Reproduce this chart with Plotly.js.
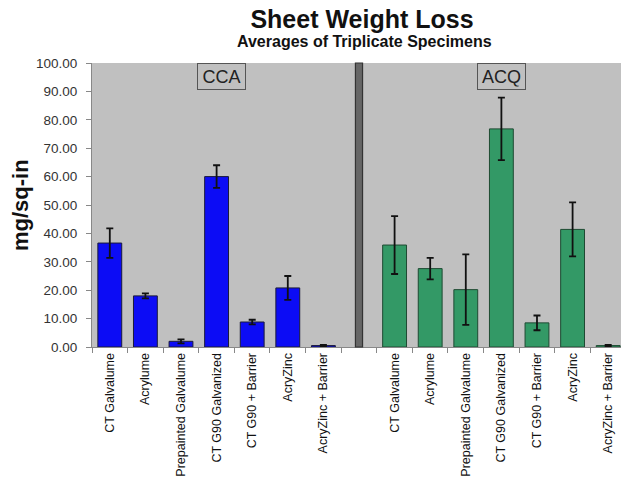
<!DOCTYPE html>
<html>
<head>
<meta charset="utf-8">
<script src="https://cdn.plot.ly/plotly-3.0.1.min.js"></script>
<style>html,body{margin:0;padding:0;background:#fff;}#chart{width:621px;height:480px;}</style>
</head>
<body>
<div id="chart"></div>
<script>
// ---- data ----
const categories = ["CT Galvalume", "Acrylume", "Prepainted Galvalume", "CT G90 Galvanized", "CT G90 + Barrier", "AcryZinc", "AcryZinc + Barrier"];
const ccaValues = [36.6, 18.0, 2.0, 60.0, 8.8, 20.8, 0.5];
const ccaErrors = [5.2, 0.9, 0.7, 4.0, 0.8, 4.2, 0.2];
const acqValues = [35.9, 27.6, 20.2, 76.8, 8.5, 41.4, 0.5];
const acqErrors = [10.2, 3.8, 12.4, 11.0, 2.6, 9.5, 0.2];
const groupNames = ["CCA", "ACQ"];
const yTicks = [0, 10, 20, 30, 40, 50, 60, 70, 80, 90, 100];

// slot positions: CCA in 0..6, gap slot 7, ACQ in 8..14
const n = categories.length;
const ccaX = categories.map((c, i) => i);
const gapX = n;
const acqX = categories.map((c, i) => n + 1 + i);
const tickVals = ccaX.concat(acqX);
const tickText = categories.concat(categories);

const FONT = "Liberation Sans, Arial, Helvetica, sans-serif";

const traces = [
  {
    type: "bar", name: groupNames[0], x: ccaX, y: ccaValues, width: 0.67,
    marker: {color: "rgb(12,12,245)", line: {color: "#1a1a3a", width: 1}},
    error_y: {type: "data", array: ccaErrors, visible: true, color: "#111", thickness: 1.8, width: 3.5}
  },
  {
    type: "bar", name: groupNames[1], x: acqX, y: acqValues, width: 0.67,
    marker: {color: "#339966", line: {color: "#1e4a32", width: 1}},
    error_y: {type: "data", array: acqErrors, visible: true, color: "#111", thickness: 1.8, width: 3.5}
  }
];

const layout = {
  width: 621, height: 480,
  margin: {l: 92, r: 0, t: 63, b: 133, pad: 0},
  paper_bgcolor: "#ffffff",
  plot_bgcolor: "#C0C0C0",
  showlegend: false,
  font: {family: FONT, color: "#111"},
  title: {
    text: "<b>Sheet Weight Loss</b>",
    font: {family: FONT, size: 25, color: "#111"},
    x: 362 / 621, xref: "container", xanchor: "center",
    y: 1 - 19 / 480, yref: "container", yanchor: "middle"
  },
  xaxis: {
    range: [-0.5, 14.36],
    tickmode: "array", tickvals: tickVals, ticktext: tickText,
    tickangle: -90, ticks: "", ticklen: 0,
    tickfont: {family: FONT, size: 12.5, color: "#111"},
    showgrid: false, zeroline: false,
    showline: true, linecolor: "#888", linewidth: 1,
    minor: {tickmode: "linear", tick0: -0.5, dtick: 1, ticks: "outside", ticklen: 5, tickcolor: "#888", tickwidth: 1, showgrid: false},
    fixedrange: true
  },
  yaxis: {
    range: [0, 100],
    tickmode: "array", tickvals: yTicks, tickformat: ".2f",
    ticks: "outside", ticklen: 5, tickcolor: "#888", tickwidth: 1,
    ticklabelstandoff: 6,
    tickfont: {family: FONT, size: 13.5, color: "#333"},
    showgrid: false, zeroline: false,
    showline: true, linecolor: "#888", linewidth: 1,
    fixedrange: true
  },
  shapes: [
    {type: "rect", xref: "x", yref: "paper", x0: gapX - 0.1, x1: gapX + 0.1, y0: 0, y1: 1,
     fillcolor: "#666666", line: {color: "#333333", width: 1.2}, layer: "above"}
  ],
  annotations: [
    {text: "<b>Averages of Triplicate Specimens</b>", xref: "paper", yref: "paper",
     x: (364 - 92) / 529, y: (347 - 42) / 283.7, xanchor: "center", yanchor: "middle",
     showarrow: false, font: {family: FONT, size: 16, color: "#111"}},
    {text: "<b>mg/sq-in</b>", xref: "paper", yref: "paper",
     x: (20 - 92) / 529, y: 0.5, xanchor: "center", yanchor: "middle",
     textangle: -90, showarrow: false, font: {family: FONT, size: 22, color: "#111"}},
    {text: groupNames[0], xref: "x", yref: "paper", x: 3.15, y: 1, xanchor: "center", yanchor: "top",
     showarrow: false, width: 42, height: 20, borderpad: 2.5, bordercolor: "#555", borderwidth: 1,
     bgcolor: "#C0C0C0", font: {family: FONT, size: 18, color: "#222"}},
    {text: groupNames[1], xref: "x", yref: "paper", x: 11, y: 1, xanchor: "center", yanchor: "top",
     showarrow: false, width: 42, height: 20, borderpad: 2.5, bordercolor: "#555", borderwidth: 1,
     bgcolor: "#C0C0C0", font: {family: FONT, size: 18, color: "#222"}}
  ]
};

Plotly.newPlot("chart", traces, layout, {displayModeBar: false, staticPlot: true});
</script>
</body>
</html>
